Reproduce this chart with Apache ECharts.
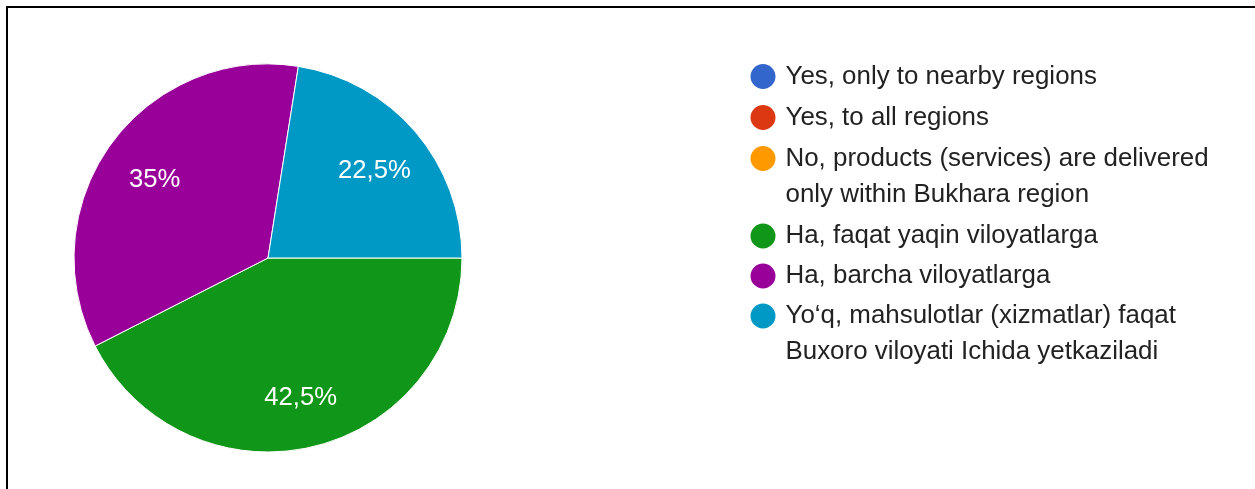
<!DOCTYPE html>
<html>
<head>
<meta charset="utf-8">
<script src="https://cdn.jsdelivr.net/npm/echarts@6/dist/echarts.min.js"></script>
<style>
html,body{margin:0;padding:0;background:#fff;}
#chart{width:1255px;height:489px;}
</style>
</head>
<body>
<div id="chart"></div>
<script>
// Data
var categories = [
  'Yes, only to nearby regions',
  'Yes, to all regions',
  'No, products (services) are delivered only within Bukhara region',
  'Ha, faqat yaqin viloyatlarga',
  'Ha, barcha viloyatlarga',
  'Yo\u2018q, mahsulotlar (xizmatlar) faqat Buxoro viloyati Ichida yetkaziladi'
];
var legendLabels = [
  'Yes, only to nearby regions',
  'Yes, to all regions',
  'No, products (services) are delivered\nonly within Bukhara region',
  'Ha, faqat yaqin viloyatlarga',
  'Ha, barcha viloyatlarga',
  'Yo\u2018q, mahsulotlar (xizmatlar) faqat\nBuxoro viloyati Ichida yetkaziladi'
];
var values = [0, 0, 0, 42.5, 35, 22.5];
var colors = ['#3366cc', '#dc3912', '#ff9900', '#109618', '#990099', '#0099c6'];

var FONT = 'Arial, "Liberation Sans", sans-serif';
var pieData = categories.map(function (c, i) { return { name: c, value: values[i] }; });

// legend layout: one legend component per entry
var legendIconCenters = [76.5, 117.5, 158.5, 236, 276, 316];
var LINE_H = 36, ICON = 27;
var legends = categories.map(function (c, i) {
  var label = legendLabels[i];
  var nLines = label.split('\n').length;
  var txt = nLines > 1 ? '\n' + label : label;
  var totalLines = nLines > 1 ? nLines + 1 : 1;
  var half = Math.max(totalLines * LINE_H, ICON) / 2;
  return {
    data: [c],
    orient: 'vertical',
    left: 748.5,
    top: legendIconCenters[i] - half,
    padding: 0,
    icon: 'circle',
    itemWidth: ICON,
    itemHeight: ICON,
    itemGap: 0,
    selectedMode: false,
    formatter: function () { return txt; },
    textStyle: {
      fontFamily: FONT,
      fontSize: 25.9,
      lineHeight: LINE_H,
      color: '#222222',
      padding: [0, 0, 0, 4]
    }
  };
});

var chart = echarts.init(document.getElementById('chart'), null, { renderer: 'canvas' });
chart.setOption({
  animation: false,
  backgroundColor: '#ffffff',
  color: colors,
  legend: legends,
  graphic: [{
    type: 'polyline',
    shape: { points: [[7, 600], [7, 7], [1300, 7]] },
    style: { stroke: '#000000', lineWidth: 2, fill: null },
    silent: true
  }],
  series: [{
    type: 'pie',
    center: [268, 258],
    radius: 194,
    startAngle: 0,
    clockwise: true,
    data: pieData,
    silent: true,
    itemStyle: { borderColor: '#ffffff', borderWidth: 1 },
    label: { show: false },
    labelLine: { show: false },
    emphasis: { disabled: true }
  }, {
    type: 'pie',
    center: [268, 258],
    radius: 274,
    startAngle: 0,
    clockwise: true,
    data: pieData,
    silent: true,
    z: 5,
    itemStyle: { color: 'rgba(0,0,0,0)', borderWidth: 0 },
    minShowLabelAngle: 1,
    label: {
      show: true,
      position: 'inside',
      offset: [0, 4],
      fontFamily: FONT,
      fontSize: 25.7,
      color: '#ffffff',
      formatter: function (p) {
        return p.value > 0 ? String(p.value).replace('.', ',') + '%' : '';
      }
    },
    labelLine: { show: false },
    emphasis: { disabled: true }
  }]
});
</script>
</body>
</html>
